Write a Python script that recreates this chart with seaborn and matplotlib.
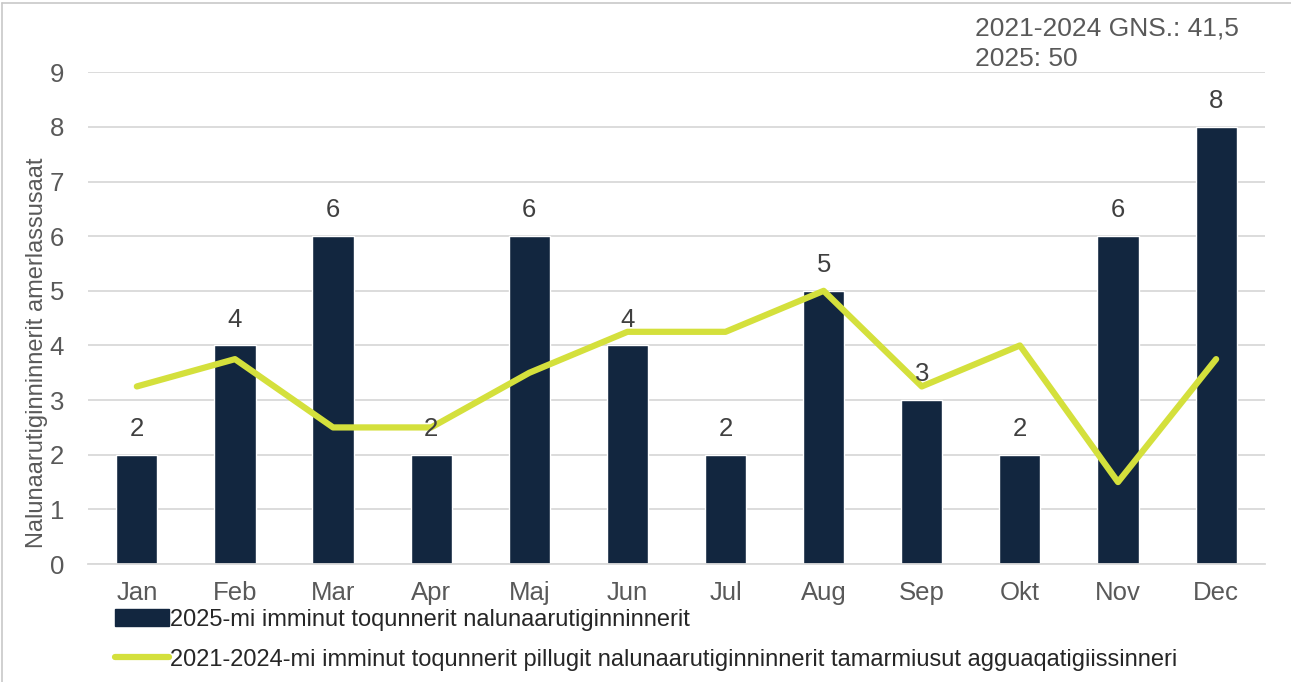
import pandas as pd
import numpy as np
import matplotlib.pyplot as plt
import seaborn as sns
from matplotlib.patches import Patch
from matplotlib.lines import Line2D

months = ['Jan', 'Feb', 'Mar', 'Apr', 'Maj', 'Jun', 'Jul', 'Aug', 'Sep', 'Okt', 'Nov', 'Dec']
reports_2025 = [2, 4, 6, 2, 6, 4, 2, 5, 3, 2, 6, 8]
avg_2021_2024 = [3.25, 3.75, 2.5, 2.5, 3.5, 4.25, 4.25, 5, 3.25, 4, 1.5, 3.75]

bar_label = '2025-mi imminut toqunnerit nalunaarutiginninnerit'
line_label = '2021-2024-mi imminut toqunnerit pillugit nalunaarutiginninnerit tamarmiusut agguaqatigiissinneri'
y_label = 'Nalunaarutiginninnerit amerlassusaat'
note_lines = ['2021-2024 GNS.: 41,5', '2025: 50']

bar_color = '#12263f'
line_color = '#d4e03c'
text_gray = '#595959'

df = pd.DataFrame({'month': months, 'reports': reports_2025, 'avg': avg_2021_2024})
df['pos'] = np.arange(len(df))

sns.set_theme(style='white')
plt.rcParams['font.family'] = ['Liberation Sans', 'DejaVu Sans']

fig = plt.figure(figsize=(12.91, 6.82), dpi=100)
ax = fig.add_axes([0.068, 0.173, 0.912, 0.721])

sns.barplot(data=df, x='month', y='reports', color=bar_color, width=0.42,
            saturation=1, ax=ax, zorder=2)
sns.lineplot(data=df, x='pos', y='avg', color=line_color, linewidth=4.5,
             sort=False, ax=ax, zorder=3)

ax.bar_label(ax.containers[0], fontsize=18.5, color='#404040', padding=10)

ax.set_ylim(0, 9)
ax.set_xlim(-0.5, len(months) - 0.5)
ax.set_yticks(range(0, 10))
ax.yaxis.grid(True, color='#d9d9d9', linewidth=1.3, zorder=0)
ax.xaxis.grid(False)
for side in ['top', 'right', 'left']:
    ax.spines[side].set_visible(False)
ax.spines['bottom'].set_color('#d9d9d9')
ax.spines['bottom'].set_linewidth(1.3)
ax.tick_params(axis='x', labelsize=18.5, labelcolor=text_gray, length=0, pad=12)
ax.tick_params(axis='y', labelsize=18.5, labelcolor=text_gray, length=0, pad=17)
ax.set_xlabel('')
ax.set_ylabel(y_label, fontsize=17, color=text_gray)
ax.yaxis.set_label_coords(-0.034, 0.43)

fig.text(0.755, 0.958, note_lines[0], fontsize=19, color=text_gray, va='center')
fig.text(0.755, 0.914, note_lines[1], fontsize=19, color=text_gray, va='center')

handles = [Patch(facecolor=bar_color, edgecolor=bar_color),
           Line2D([0], [0], color=line_color, linewidth=4.5)]
fig.legend(handles, [bar_label, line_label], loc='upper left',
           bbox_to_anchor=(0.089, 0.107), frameon=False, fontsize=17,
           handlelength=2.3, handletextpad=0.05, labelspacing=0.75,
           borderaxespad=0, borderpad=0)

# outer chart frame (top and left edges visible)
fig.add_artist(Line2D([0.0015, 0.0015], [0, 0.996], transform=fig.transFigure,
                      color='#c8c8c8', linewidth=1.2))
fig.add_artist(Line2D([0.0015, 1], [0.996, 0.996], transform=fig.transFigure,
                      color='#c8c8c8', linewidth=1.2))

fig.savefig('out.png', dpi=100)
